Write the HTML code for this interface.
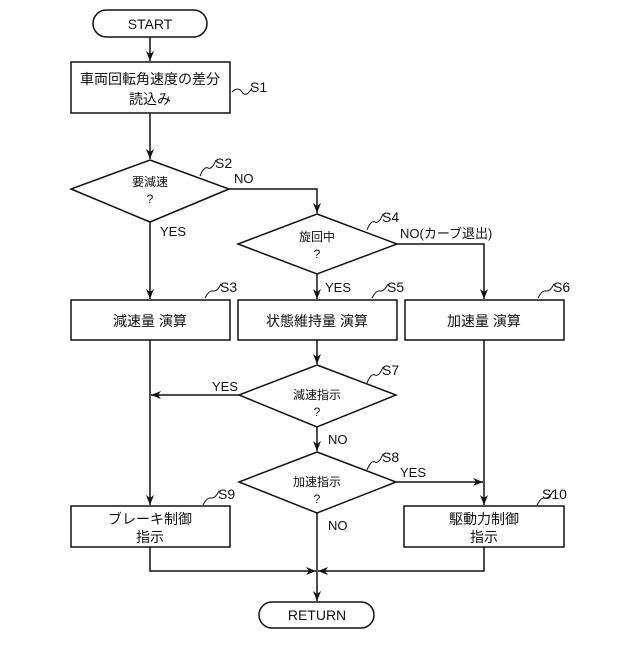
<!DOCTYPE html>
<html><head><meta charset="utf-8"><style>
body{margin:0;background:#fff;}
svg text{font-family:"Liberation Sans","Noto Sans CJK JP",sans-serif;fill:#111;}
</style></head><body>
<svg width="640" height="640" viewBox="0 0 640 640" xmlns="http://www.w3.org/2000/svg">
<defs><marker id="a" markerWidth="10" markerHeight="8" refX="10" refY="4" orient="auto" markerUnits="userSpaceOnUse"><path d="M0,0 L10,4 L0,8 L3,4 Z" fill="#111"/></marker></defs>
<g stroke="#111" stroke-width="1.5" fill="none">
<rect x="93" y="10" width="114" height="27" rx="13.5" fill="#fff"/>
<rect x="71" y="62" width="159" height="51"/>
<polygon points="150,160 229,189 150,222 71,189"/>
<polygon points="317,214 397,244 317,274 238,244"/>
<rect x="71" y="300" width="159" height="40"/>
<rect x="238" y="300" width="159" height="40"/>
<rect x="405" y="300" width="159" height="40"/>
<polygon points="317,365 396,395 317,427 239,395"/>
<polygon points="317,452 396,482 317,513 239,482"/>
<rect x="71" y="506" width="159" height="41"/>
<rect x="404" y="506" width="160" height="41"/>
<rect x="259" y="602" width="115" height="26" rx="13" fill="#fff"/>
<line x1="150" y1="37" x2="150" y2="61" marker-end="url(#a)"/>
<line x1="150" y1="113" x2="150" y2="159" marker-end="url(#a)"/>
<polyline points="229,189 317,189 317,213" marker-end="url(#a)"/>
<line x1="150" y1="222" x2="150" y2="299" marker-end="url(#a)"/>
<polyline points="397,244 484,244 484,299" marker-end="url(#a)"/>
<line x1="317" y1="274" x2="317" y2="299" marker-end="url(#a)"/>
<line x1="317" y1="340" x2="317" y2="364" marker-end="url(#a)"/>
<line x1="239" y1="395" x2="151" y2="395" marker-end="url(#a)"/>
<line x1="150" y1="340" x2="150" y2="505" marker-end="url(#a)"/>
<line x1="317" y1="427" x2="317" y2="451" marker-end="url(#a)"/>
<line x1="396" y1="482" x2="483" y2="482" marker-end="url(#a)"/>
<line x1="484" y1="340" x2="484" y2="505" marker-end="url(#a)"/>
<line x1="317" y1="513" x2="317" y2="601" marker-end="url(#a)"/>
<polyline points="150,547 150,571 316,571" marker-end="url(#a)"/>
<polyline points="484,547 484,571 318,571" marker-end="url(#a)"/>
<g stroke-width="1">
<path d="M232,92 q6,-6 10,0 t10,-4"/>
<path d="M200,176 q4,-10 8,-8 t8,-8"/>
<path d="M367,230 q4,-10 8,-8 t8,-8"/>
<path d="M205,298 q4,-8 8,-7 t8,-7"/>
<path d="M372,298 q4,-8 8,-7 t8,-7"/>
<path d="M538,298 q4,-8 8,-7 t8,-7"/>
<path d="M367,383 q4,-10 8,-8 t8,-8"/>
<path d="M367,470 q4,-10 8,-8 t8,-8"/>
<path d="M203,505 q4,-8 8,-7 t8,-7"/>
<path d="M537,505 q4,-8 8,-7 t8,-7"/>
</g>
</g>
<g font-size="14" text-anchor="middle">
<text x="150" y="29">START</text>
<text x="150" y="84">車両回転角速度の差分</text>
<text x="150" y="104">読込み</text>
<text x="150" y="186" font-size="12">要減速</text>
<text x="150" y="203" font-size="12">?</text>
<text x="317" y="241" font-size="12">旋回中</text>
<text x="317" y="258" font-size="12">?</text>
<text x="150" y="326">減速量 演算</text>
<text x="317" y="326">状態維持量 演算</text>
<text x="484" y="326">加速量 演算</text>
<text x="317" y="399" font-size="12">減速指示</text>
<text x="317" y="416" font-size="12">?</text>
<text x="317" y="486" font-size="12">加速指示</text>
<text x="317" y="503" font-size="12">?</text>
<text x="150" y="524">ブレーキ制御</text>
<text x="150" y="542">指示</text>
<text x="484" y="524">駆動力制御</text>
<text x="484" y="542">指示</text>
<text x="317" y="620">RETURN</text>
</g>
<g font-size="14">
<text x="250" y="92">S1</text>
<text x="215" y="168">S2</text>
<text x="382" y="222">S4</text>
<text x="220" y="292">S3</text>
<text x="387" y="292">S5</text>
<text x="553" y="292">S6</text>
<text x="382" y="375">S7</text>
<text x="382" y="462">S8</text>
<text x="218" y="499">S9</text>
<text x="542" y="499">S10</text>
<text x="234" y="183" font-size="13">NO</text>
<text x="160" y="236" font-size="13">YES</text>
<text x="400" y="238" font-size="13">NO(カーブ退出)</text>
<text x="325" y="292" font-size="13">YES</text>
<text x="212" y="391" font-size="13">YES</text>
<text x="328" y="444" font-size="13">NO</text>
<text x="400" y="477" font-size="13">YES</text>
<text x="328" y="530" font-size="13">NO</text>
</g>
</svg>
</body></html>
